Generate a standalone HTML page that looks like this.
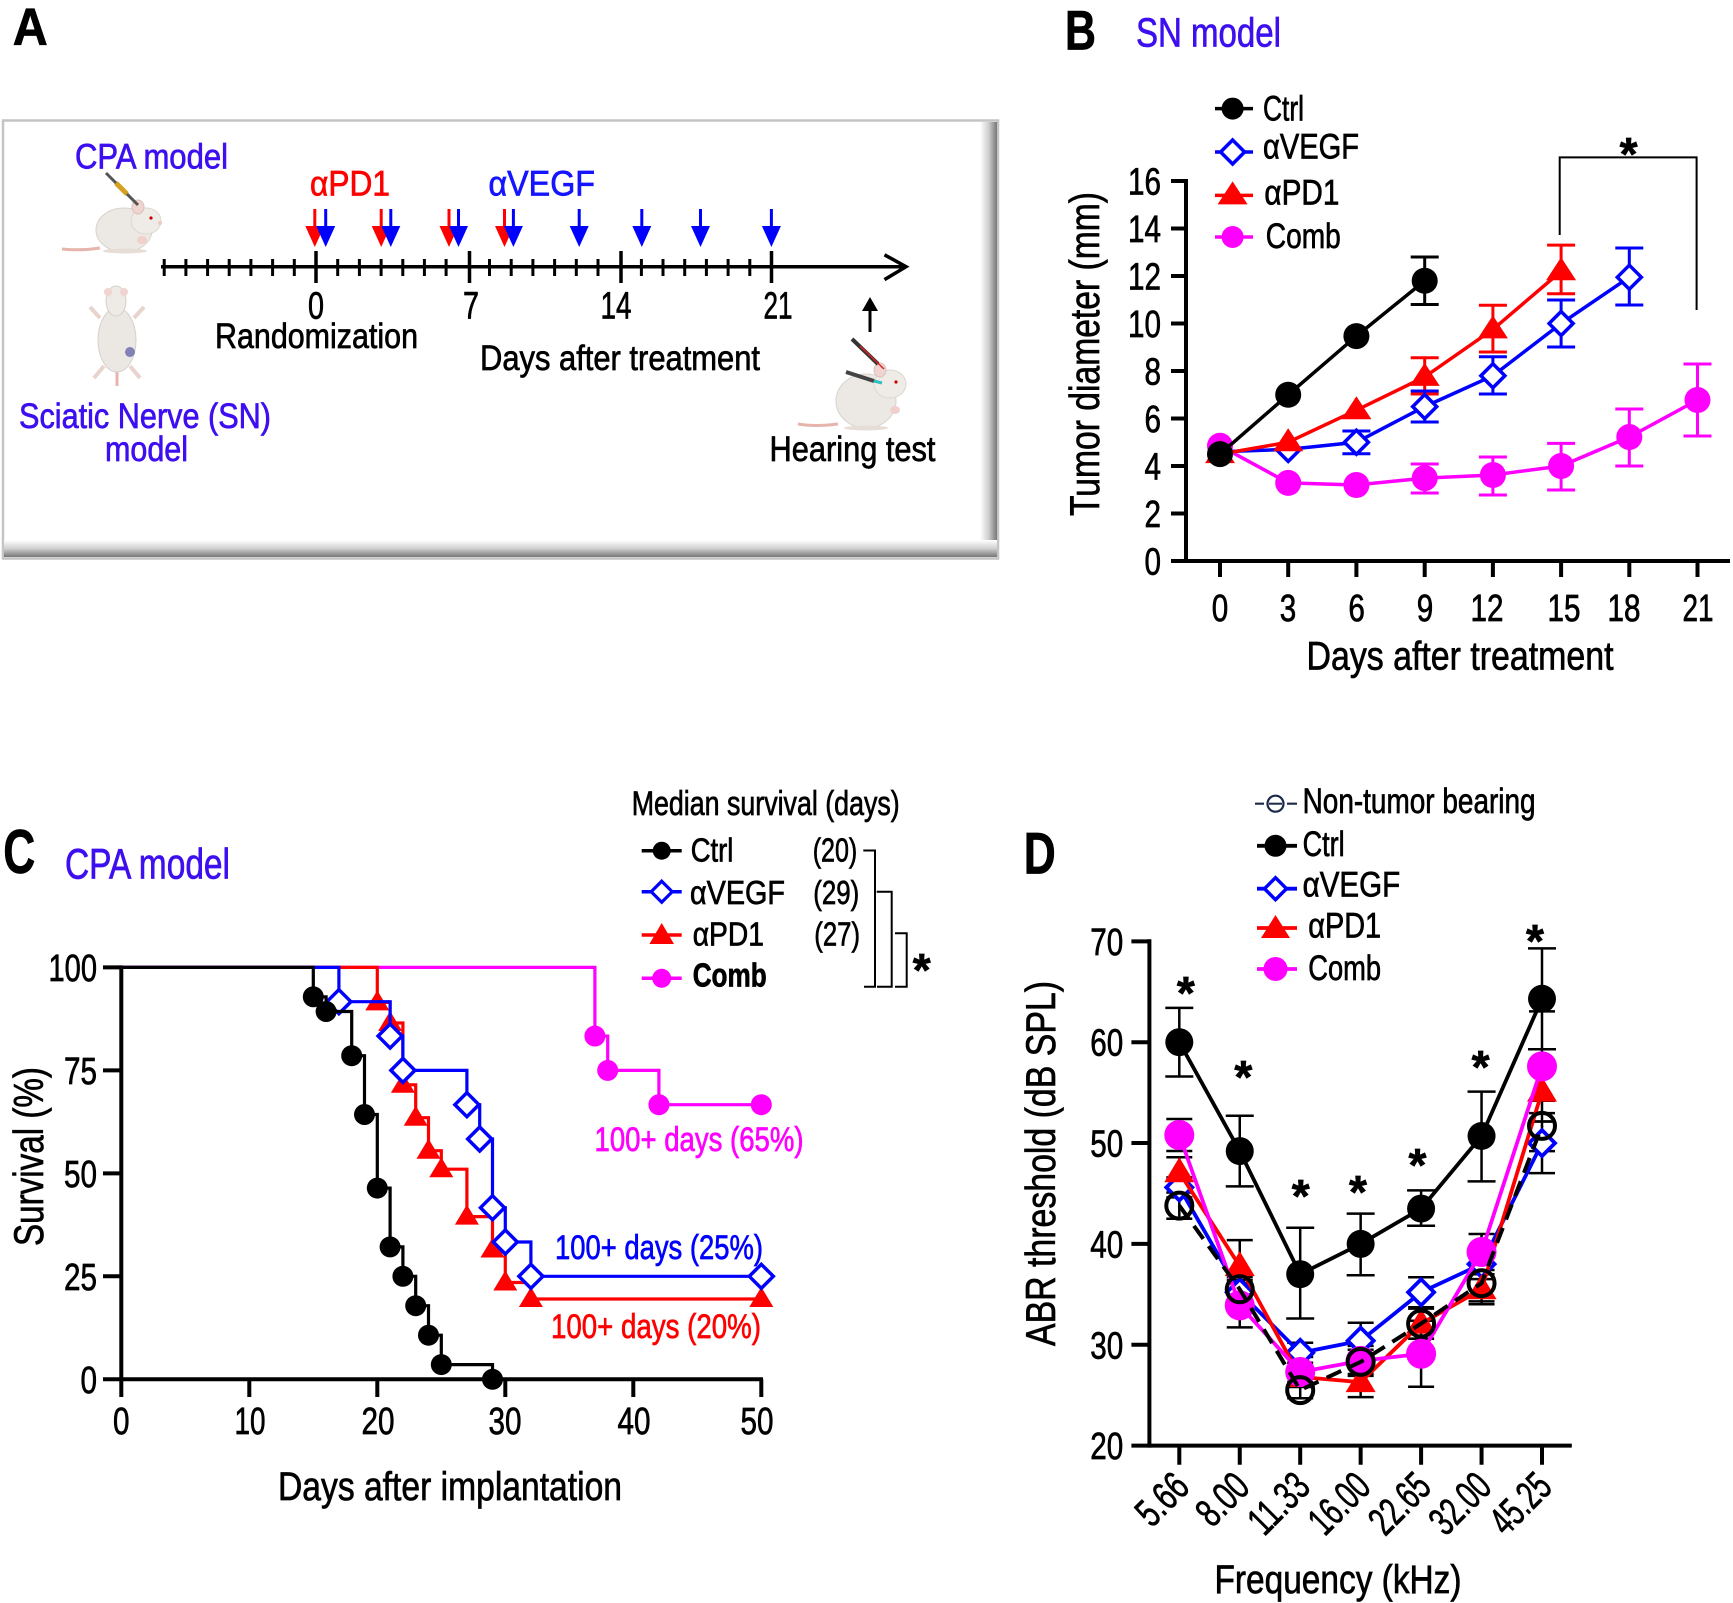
<!DOCTYPE html>
<html><head><meta charset="utf-8"><style>
html,body{margin:0;padding:0;background:#fff;}
svg{display:block;}
text{font-family:"Liberation Sans",Arial,sans-serif;fill:#000;stroke:#000;stroke-width:0.7px;}
.b{font-weight:bold;}
</style></head><body>
<svg xmlns="http://www.w3.org/2000/svg" width="1733" height="1603" viewBox="0 0 1733 1603">
<defs>
<linearGradient id="gr" x1="0" x2="1" y1="0" y2="0"><stop offset="0" stop-color="#fff"/><stop offset="0.5" stop-color="#d0d0d0"/><stop offset="1" stop-color="#767676"/></linearGradient>
<linearGradient id="gb" x1="0" x2="0" y1="0" y2="1"><stop offset="0" stop-color="#fff"/><stop offset="0.5" stop-color="#d0d0d0"/><stop offset="1" stop-color="#767676"/></linearGradient>
<path id="triB" d="M0,-14 L15,9 L-15,9 Z" fill="#ff0000"/>
<path id="diaB" d="M0,-12 L12,0 L0,12 L-12,0 Z" fill="#fff" stroke="#0000ff" stroke-width="3.5"/>
<path id="triC" d="M0,-12 L12,8 L-12,8 Z" fill="#ff0000"/>
<path id="diaC" d="M0,-12 L12,0 L0,12 L-12,0 Z" fill="#fff" stroke="#0000ff" stroke-width="3.5"/>
<path id="triD" d="M0,-15 L15,10 L-15,10 Z" fill="#ff0000"/>
<path id="diaD" d="M0,-13 L13,0 L0,13 L-13,0 Z" fill="#fff" stroke="#0000ff" stroke-width="3.8"/>
</defs>

<!-- ================= PANEL A ================= -->
<text class="b" x="12.8" y="44.4" font-size="52" textLength="35" lengthAdjust="spacingAndGlyphs">A</text>
<rect x="3" y="120.5" width="995" height="438" fill="#fff" stroke="#c4c4c4" stroke-width="2.5"/>
<rect x="980" y="122" width="17" height="435" fill="url(#gr)"/>
<rect x="4" y="540" width="993" height="17" fill="url(#gb)"/>

<!-- mouse 1 -->
<path d="M100,248 Q80,251 62,249" stroke="#e6b4ac" stroke-width="3" fill="none"/>
<ellipse cx="124" cy="230" rx="28" ry="22" fill="#ece9e5" stroke="#d8d3cd"/>
<ellipse cx="146" cy="221" rx="15" ry="13" fill="#efece8" stroke="#dcd7d1"/>
<ellipse cx="138" cy="207" rx="6" ry="7" fill="#efd4d0" stroke="#d8c0bc"/>
<circle cx="151" cy="218" r="1.6" fill="#c00"/>
<circle cx="160" cy="223" r="2" fill="#f0c8c0"/>
<ellipse cx="142" cy="240" rx="5" ry="4" fill="#f0d0cc"/>
<ellipse cx="125" cy="251" rx="22" ry="2.5" fill="#e6ddd6"/>
<line x1="106" y1="173" x2="138" y2="205" stroke="#555" stroke-width="3"/>
<line x1="116" y1="183" x2="127" y2="194" stroke="#d4a020" stroke-width="5"/>
<!-- mouse 2 -->
<line x1="100" y1="318" x2="90" y2="307" stroke="#e8d4cc" stroke-width="4"/>
<line x1="134" y1="318" x2="144" y2="307" stroke="#e8d4cc" stroke-width="4"/>
<line x1="104" y1="366" x2="94" y2="378" stroke="#e8d4cc" stroke-width="4"/>
<line x1="130" y1="366" x2="140" y2="378" stroke="#e8d4cc" stroke-width="4"/>
<line x1="117" y1="370" x2="117" y2="386" stroke="#e6b4ac" stroke-width="3"/>
<ellipse cx="117" cy="340" rx="19" ry="32" fill="#ebe8e4" stroke="#d5d0ca"/>
<ellipse cx="116" cy="301" rx="10" ry="15" fill="#eeebe7" stroke="#d5d0ca"/>
<circle cx="108" cy="292" r="4" fill="#efd4d0"/>
<circle cx="124" cy="292" r="4" fill="#efd4d0"/>
<circle cx="130" cy="352" r="5" fill="#7070b0" opacity="0.85"/>
<!-- mouse 3 -->
<path d="M838,424 Q815,427 798,424" stroke="#e6b4ac" stroke-width="3" fill="none"/>
<ellipse cx="866" cy="401" rx="30" ry="27" fill="#ece9e5" stroke="#d8d3cd"/>
<ellipse cx="890" cy="384" rx="16" ry="14" fill="#efece8" stroke="#dcd7d1"/>
<ellipse cx="880" cy="370" rx="6" ry="7" fill="#efd4d0" stroke="#d8c0bc"/>
<circle cx="896" cy="382" r="1.6" fill="#c00"/>
<ellipse cx="895" cy="410" rx="5" ry="4" fill="#f0d0cc"/>
<ellipse cx="866" cy="428" rx="22" ry="2.5" fill="#e6ddd6"/>
<line x1="852" y1="339" x2="878" y2="364" stroke="#333" stroke-width="4"/>
<line x1="860" y1="346" x2="884" y2="369" stroke="#e02020" stroke-width="1.5"/>
<line x1="846" y1="372" x2="874" y2="381" stroke="#444" stroke-width="4"/>
<line x1="874" y1="381" x2="882" y2="383" stroke="#30c0c0" stroke-width="3"/>

<!-- timeline -->
<line x1="161" y1="266.7" x2="905" y2="266.7" stroke="#000" stroke-width="3.5"/>
<polyline points="884.5,254.8 906,266.7 884.5,279.6" fill="none" stroke="#000" stroke-width="3.5"/>
<path d="M164.2,259V276 M185.9,259V276 M207.6,259V276 M229.2,259V276 M250.9,259V276 M272.6,259V276 M294.3,259V276 M337.7,259V276 M359.4,259V276 M381.1,259V276 M402.8,259V276 M424.4,259V276 M446.1,259V276 M489.5,259V276 M511.2,259V276 M532.9,259V276 M554.6,259V276 M576.3,259V276 M598,259V276 M641.4,259V276 M663,259V276 M684.7,259V276 M706.4,259V276 M728.1,259V276 M749.8,259V276" stroke="#000" stroke-width="3"/>
<path d="M316,251V283 M469.5,251V283 M621,251V283 M771.5,251V283" stroke="#000" stroke-width="3.5"/>
<!-- red arrows -->
<g stroke="#ff0000" stroke-width="3" fill="#ff0000">
<line x1="314.8" y1="209" x2="314.8" y2="228"/><polygon points="305.3,226 324.3,226 314.8,247" stroke="none"/>
<line x1="381.2" y1="209" x2="381.2" y2="228"/><polygon points="371.7,226 390.7,226 381.2,247" stroke="none"/>
<line x1="449" y1="209" x2="449" y2="228"/><polygon points="439.5,226 458.5,226 449,247" stroke="none"/>
<line x1="504.5" y1="209" x2="504.5" y2="228"/><polygon points="495,226 514,226 504.5,247" stroke="none"/>
</g>
<g stroke="#0000ff" stroke-width="3" fill="#0000ff">
<line x1="325.7" y1="209" x2="325.7" y2="228"/><polygon points="316.2,226 335.2,226 325.7,247" stroke="none"/>
<line x1="390.8" y1="209" x2="390.8" y2="228"/><polygon points="381.3,226 400.3,226 390.8,247" stroke="none"/>
<line x1="458.5" y1="209" x2="458.5" y2="228"/><polygon points="449,226 468,226 458.5,247" stroke="none"/>
<line x1="513.4" y1="209" x2="513.4" y2="228"/><polygon points="503.9,226 522.9,226 513.4,247" stroke="none"/>
<line x1="579.2" y1="209" x2="579.2" y2="228"/><polygon points="569.7,226 588.7,226 579.2,247" stroke="none"/>
<line x1="641.8" y1="209" x2="641.8" y2="228"/><polygon points="632.3,226 651.3,226 641.8,247" stroke="none"/>
<line x1="700.5" y1="209" x2="700.5" y2="228"/><polygon points="691,226 710,226 700.5,247" stroke="none"/>
<line x1="771.4" y1="209" x2="771.4" y2="228"/><polygon points="761.9,226 780.9,226 771.4,247" stroke="none"/>
</g>
<line x1="870" y1="332" x2="870" y2="308" stroke="#000" stroke-width="3"/>
<polygon points="862,311 878,311 870,297" fill="#000"/>

<text x="316" y="318.5" font-size="38" text-anchor="middle" textLength="16" lengthAdjust="spacingAndGlyphs">0</text>
<text x="471" y="318.5" font-size="38" text-anchor="middle" textLength="16" lengthAdjust="spacingAndGlyphs">7</text>
<text x="616" y="318.5" font-size="38" text-anchor="middle" textLength="31" lengthAdjust="spacingAndGlyphs">14</text>
<text x="778" y="318.5" font-size="38" text-anchor="middle" textLength="29" lengthAdjust="spacingAndGlyphs">21</text>
<text x="75" y="168.5" font-size="35" style="fill:#3d0ef0;stroke:#3d0ef0" textLength="153" lengthAdjust="spacingAndGlyphs">CPA model</text>
<text x="310" y="195.6" font-size="35" style="fill:#ff0000;stroke:#ff0000" textLength="80" lengthAdjust="spacingAndGlyphs">αPD1</text>
<text x="488.5" y="195.6" font-size="35" style="fill:#1414ff;stroke:#1414ff" textLength="106.5" lengthAdjust="spacingAndGlyphs">αVEGF</text>
<text x="215" y="348" font-size="35" textLength="203" lengthAdjust="spacingAndGlyphs">Randomization</text>
<text x="480" y="370" font-size="35" textLength="280" lengthAdjust="spacingAndGlyphs">Days after treatment</text>
<text x="769.5" y="461" font-size="35" textLength="166" lengthAdjust="spacingAndGlyphs">Hearing test</text>
<text x="19" y="428" font-size="35" style="fill:#3d0ef0;stroke:#3d0ef0" textLength="252" lengthAdjust="spacingAndGlyphs">Sciatic Nerve (SN)</text>
<text x="105" y="461" font-size="35" style="fill:#3d0ef0;stroke:#3d0ef0" textLength="83" lengthAdjust="spacingAndGlyphs">model</text>

<!-- ================= PANEL B ================= -->
<text class="b" x="1065" y="49.3" font-size="56" textLength="31" lengthAdjust="spacingAndGlyphs">B</text>
<text x="1136" y="46.7" font-size="41" style="fill:#3d0ef0;stroke:#3d0ef0" textLength="145" lengthAdjust="spacingAndGlyphs">SN model</text>

<line x1="1186" y1="179" x2="1186" y2="563" stroke="#000" stroke-width="4"/>
<line x1="1171" y1="561" x2="1730" y2="561" stroke="#000" stroke-width="4"/>
<path d="M1171,513.5H1186 M1171,466H1186 M1171,418.5H1186 M1171,371H1186 M1171,323.5H1186 M1171,276H1186 M1171,228.5H1186 M1171,181H1186" stroke="#000" stroke-width="4"/>
<path d="M1220,561V577 M1288.2,561V577 M1356.4,561V577 M1424.7,561V577 M1492.9,561V577 M1561.1,561V577 M1629.3,561V577 M1697.5,561V577" stroke="#000" stroke-width="4"/>
<g font-size="38" text-anchor="end">
<text x="1161" y="574.5" textLength="16.5" lengthAdjust="spacingAndGlyphs">0</text>
<text x="1161" y="527" textLength="16.5" lengthAdjust="spacingAndGlyphs">2</text>
<text x="1161" y="479.5" textLength="16.5" lengthAdjust="spacingAndGlyphs">4</text>
<text x="1161" y="432" textLength="16.5" lengthAdjust="spacingAndGlyphs">6</text>
<text x="1161" y="384.5" textLength="16.5" lengthAdjust="spacingAndGlyphs">8</text>
<text x="1161" y="337" textLength="33" lengthAdjust="spacingAndGlyphs">10</text>
<text x="1161" y="289.5" textLength="33" lengthAdjust="spacingAndGlyphs">12</text>
<text x="1161" y="242" textLength="33" lengthAdjust="spacingAndGlyphs">14</text>
<text x="1161" y="194.5" textLength="33" lengthAdjust="spacingAndGlyphs">16</text>
</g>
<g font-size="38" text-anchor="middle">
<text x="1220" y="621" textLength="16.5" lengthAdjust="spacingAndGlyphs">0</text>
<text x="1288" y="621" textLength="16.5" lengthAdjust="spacingAndGlyphs">3</text>
<text x="1356.6" y="621" textLength="16.5" lengthAdjust="spacingAndGlyphs">6</text>
<text x="1425" y="621" textLength="16.5" lengthAdjust="spacingAndGlyphs">9</text>
<text x="1487" y="621" textLength="33" lengthAdjust="spacingAndGlyphs">12</text>
<text x="1564" y="621" textLength="33" lengthAdjust="spacingAndGlyphs">15</text>
<text x="1624" y="621" textLength="33" lengthAdjust="spacingAndGlyphs">18</text>
<text x="1698" y="621" textLength="31" lengthAdjust="spacingAndGlyphs">21</text>
</g>
<text x="1306.5" y="669.6" font-size="40" textLength="307" lengthAdjust="spacingAndGlyphs">Days after treatment</text>
<text transform="translate(1099,354) rotate(-90)" font-size="42" text-anchor="middle" textLength="324" lengthAdjust="spacingAndGlyphs">Tumor diameter (mm)</text>

<!-- B error bars -->
<path d="M1424.7,257V304.5 M1410.7,257H1438.7 M1410.7,304.5H1438.7" stroke="#000" stroke-width="3"/>
<path d="M1424.7,357.7V394 M1410.7,357.7H1438.7 M1410.7,394H1438.7 M1492.9,305.2V352 M1478.9,305.2H1506.9 M1478.9,352H1506.9 M1561.1,245.1V293.8 M1547.1,245.1H1575.1 M1547.1,293.8H1575.1" stroke="#ff0000" stroke-width="3"/>
<path d="M1356.4,431V453.7 M1342.4,431H1370.4 M1342.4,453.7H1370.4 M1424.7,391V422 M1410.7,391H1438.7 M1410.7,422H1438.7 M1492.9,356.7V394 M1478.9,356.7H1506.9 M1478.9,394H1506.9 M1561.1,300V347 M1547.1,300H1575.1 M1547.1,347H1575.1 M1629.3,248V305 M1615.3,248H1643.3 M1615.3,305H1643.3" stroke="#0000ff" stroke-width="3"/>
<path d="M1424.7,464V493 M1410.7,464H1438.7 M1410.7,493H1438.7 M1492.9,457V495 M1478.9,457H1506.9 M1478.9,495H1506.9 M1561.1,443.4V490 M1547.1,443.4H1575.1 M1547.1,490H1575.1 M1629.3,409V466 M1615.3,409H1643.3 M1615.3,466H1643.3 M1697.5,364V436 M1683.5,364H1711.5 M1683.5,436H1711.5" stroke="#ff00ff" stroke-width="3"/>
<!-- B lines -->
<polyline points="1220,445.8 1288.2,482.9 1356.4,485 1424.7,478.1 1492.9,475 1561.1,466 1629.3,437 1697.5,400" fill="none" stroke="#ff00ff" stroke-width="3.5"/>
<g fill="#ff00ff"><circle cx="1220" cy="445.8" r="13"/><circle cx="1288.2" cy="482.9" r="13"/><circle cx="1356.4" cy="485" r="13"/><circle cx="1424.7" cy="478.1" r="13"/><circle cx="1492.9" cy="475" r="13"/><circle cx="1561.1" cy="466" r="13"/><circle cx="1629.3" cy="437" r="13"/><circle cx="1697.5" cy="400" r="13"/></g>
<polyline points="1220,451.75 1288.2,449.4 1356.4,442.25 1424.7,406.6 1492.9,375.75 1561.1,323.5 1629.3,277.2" fill="none" stroke="#0000ff" stroke-width="3.5"/>
<use href="#diaB" x="1288.2" y="449.4"/><use href="#diaB" x="1356.4" y="442.25"/><use href="#diaB" x="1424.7" y="406.6"/><use href="#diaB" x="1492.9" y="375.75"/><use href="#diaB" x="1561.1" y="323.5"/><use href="#diaB" x="1629.3" y="277.2"/>
<polyline points="1220,454.1 1288.2,442.25 1356.4,410.2 1424.7,376.9 1492.9,329.4 1561.1,271.25" fill="none" stroke="#ff0000" stroke-width="3.5"/>
<use href="#triB" x="1220" y="454.1"/><use href="#triB" x="1288.2" y="442.25"/><use href="#triB" x="1356.4" y="410.2"/><use href="#triB" x="1424.7" y="376.9"/><use href="#triB" x="1492.9" y="329.4"/><use href="#triB" x="1561.1" y="271.25"/>
<polyline points="1220,454.1 1288.2,394.75 1356.4,336.1 1424.7,280.75" fill="none" stroke="#000" stroke-width="3.5"/>
<g fill="#000"><circle cx="1220" cy="454.1" r="13"/><circle cx="1288.2" cy="394.75" r="13"/><circle cx="1356.4" cy="336.1" r="13"/><circle cx="1424.7" cy="280.75" r="13"/></g>
<!-- B bracket -->
<path d="M1559.7,235V157.4H1696.6V310" fill="none" stroke="#000" stroke-width="2"/>
<text class="b" x="1628.6" y="170" font-size="46" text-anchor="middle">*</text>
<!-- B legend -->
<line x1="1215" y1="108.6" x2="1253" y2="108.6" stroke="#000" stroke-width="3.5"/><circle cx="1232.6" cy="108.6" r="11" fill="#000"/>
<line x1="1215" y1="152" x2="1253" y2="152" stroke="#0000ff" stroke-width="3.5"/><use href="#diaB" x="1232.6" y="152"/>
<line x1="1215" y1="195.4" x2="1253" y2="195.4" stroke="#ff0000" stroke-width="3.5"/><use href="#triB" x="1232.6" y="195.4"/>
<line x1="1215" y1="237" x2="1253" y2="237" stroke="#ff00ff" stroke-width="3.5"/><circle cx="1232.6" cy="237" r="11" fill="#ff00ff"/>
<g font-size="35">
<text x="1263" y="120.7" textLength="41" lengthAdjust="spacingAndGlyphs">Ctrl</text>
<text x="1263" y="158.7" textLength="96" lengthAdjust="spacingAndGlyphs">αVEGF</text>
<text x="1264.4" y="204.7" textLength="75" lengthAdjust="spacingAndGlyphs">αPD1</text>
<text x="1265.8" y="248" textLength="75" lengthAdjust="spacingAndGlyphs">Comb</text>
</g>

<!-- ================= PANEL C ================= -->
<text class="b" x="3.3" y="873" font-size="62" textLength="32" lengthAdjust="spacingAndGlyphs">C</text>
<text x="65" y="878.3" font-size="43" style="fill:#3d0ef0;stroke:#3d0ef0" textLength="165" lengthAdjust="spacingAndGlyphs">CPA model</text>

<line x1="121.3" y1="965.4" x2="121.3" y2="1381.3" stroke="#000" stroke-width="4"/>
<line x1="103" y1="1379.3" x2="763" y2="1379.3" stroke="#000" stroke-width="4"/>
<path d="M103,967.4H121.3 M103,1070.4H121.3 M103,1173.35H121.3 M103,1276.3H121.3" stroke="#000" stroke-width="4"/>
<path d="M121.3,1379.3V1397 M249.3,1379.3V1397 M377.3,1379.3V1397 M505.3,1379.3V1397 M633.3,1379.3V1397 M761.3,1379.3V1397" stroke="#000" stroke-width="4"/>
<g font-size="38" text-anchor="end">
<text x="97" y="980.9" textLength="48.5" lengthAdjust="spacingAndGlyphs">100</text>
<text x="97" y="1083.9" textLength="33" lengthAdjust="spacingAndGlyphs">75</text>
<text x="97" y="1186.85" textLength="33" lengthAdjust="spacingAndGlyphs">50</text>
<text x="97" y="1289.8" textLength="33" lengthAdjust="spacingAndGlyphs">25</text>
<text x="97" y="1392.8" textLength="16.5" lengthAdjust="spacingAndGlyphs">0</text>
</g>
<g font-size="38" text-anchor="middle">
<text x="121.3" y="1434" textLength="16.5" lengthAdjust="spacingAndGlyphs">0</text>
<text x="250" y="1434" textLength="31" lengthAdjust="spacingAndGlyphs">10</text>
<text x="378" y="1434" textLength="33" lengthAdjust="spacingAndGlyphs">20</text>
<text x="505" y="1434" textLength="33" lengthAdjust="spacingAndGlyphs">30</text>
<text x="634" y="1434" textLength="33" lengthAdjust="spacingAndGlyphs">40</text>
<text x="757" y="1434" textLength="33" lengthAdjust="spacingAndGlyphs">50</text>
</g>
<text x="278" y="1500" font-size="40" textLength="344" lengthAdjust="spacingAndGlyphs">Days after implantation</text>
<text transform="translate(43,1156.5) rotate(-90)" font-size="42" text-anchor="middle" textLength="179" lengthAdjust="spacingAndGlyphs">Survival (%)</text>

<!-- C curves -->
<path d="M121.3,967.4 H594.9 V1036.05 H607.7 V1070.4 H658.9 V1104.7 H761.3" fill="none" stroke="#ff00ff" stroke-width="3.2"/>
<g fill="#ff00ff"><circle cx="594.9" cy="1036.05" r="10.5"/><circle cx="607.7" cy="1070.4" r="10.5"/><circle cx="658.9" cy="1104.7" r="10.5"/><circle cx="761.3" cy="1104.7" r="10.5"/></g>
<path d="M121.3,967.4 H377.3 V1002.4 H390.1 V1023 H402.9 V1084.8 H415.7 V1117.7 H428.5 V1150.7 H441.3 V1169.2 H466.9 V1216.6 H492.5 V1249.5 H505.3 V1282.5 H530.9 V1299 H761.3" fill="none" stroke="#ff0000" stroke-width="3.2"/>
<use href="#triC" x="377.3" y="1002.4"/><use href="#triC" x="390.1" y="1023"/><use href="#triC" x="402.9" y="1084.8"/><use href="#triC" x="415.7" y="1117.7"/><use href="#triC" x="428.5" y="1150.7"/><use href="#triC" x="441.3" y="1169.2"/><use href="#triC" x="466.9" y="1216.6"/><use href="#triC" x="492.5" y="1249.5"/><use href="#triC" x="505.3" y="1282.5"/><use href="#triC" x="530.9" y="1299"/><use href="#triC" x="761.3" y="1299"/>
<path d="M121.3,967.4 H338.9 V1001.7 H390.1 V1036.05 H402.9 V1070.4 H466.9 V1104.7 H479.7 V1139 H492.5 V1207.7 H505.3 V1242 H530.9 V1276.3 H761.3" fill="none" stroke="#0000ff" stroke-width="3.2"/>
<use href="#diaC" x="338.9" y="1001.7"/><use href="#diaC" x="390.1" y="1036.05"/><use href="#diaC" x="402.9" y="1070.4"/><use href="#diaC" x="466.9" y="1104.7"/><use href="#diaC" x="479.7" y="1139"/><use href="#diaC" x="492.5" y="1207.7"/><use href="#diaC" x="505.3" y="1242"/><use href="#diaC" x="530.9" y="1276.3"/><use href="#diaC" x="761.3" y="1276.3"/>
<path d="M121.3,967.4 H313.3 V996.8 H326.1 V1011.5 H351.7 V1055.7 H364.5 V1114.5 H377.3 V1188.1 H390.1 V1246.9 H402.9 V1276.3 H415.7 V1305.7 H428.5 V1335.2 H441.3 V1364.6 H492.5 V1379.3" fill="none" stroke="#000" stroke-width="3.2"/>
<g fill="#000"><circle cx="313.3" cy="996.8" r="10.5"/><circle cx="326.1" cy="1011.5" r="10.5"/><circle cx="351.7" cy="1055.7" r="10.5"/><circle cx="364.5" cy="1114.5" r="10.5"/><circle cx="377.3" cy="1188.1" r="10.5"/><circle cx="390.1" cy="1246.9" r="10.5"/><circle cx="402.9" cy="1276.3" r="10.5"/><circle cx="415.7" cy="1305.7" r="10.5"/><circle cx="428.5" cy="1335.2" r="10.5"/><circle cx="441.3" cy="1364.6" r="10.5"/><circle cx="492.5" cy="1379.3" r="10.5"/></g>

<text x="594.5" y="1151" font-size="34" style="fill:#ff00ff;stroke:#ff00ff" textLength="209" lengthAdjust="spacingAndGlyphs">100+ days (65%)</text>
<text x="555" y="1259" font-size="34" style="fill:#0000ff;stroke:#0000ff" textLength="208" lengthAdjust="spacingAndGlyphs">100+ days (25%)</text>
<text x="551" y="1338" font-size="34" style="fill:#ff0000;stroke:#ff0000" textLength="210" lengthAdjust="spacingAndGlyphs">100+ days (20%)</text>

<!-- C legend -->
<text x="631.7" y="815" font-size="34" textLength="268" lengthAdjust="spacingAndGlyphs">Median survival (days)</text>
<line x1="641.7" y1="850.7" x2="681.7" y2="850.7" stroke="#000" stroke-width="3.5"/><circle cx="661.7" cy="850.7" r="9" fill="#000"/>
<line x1="641.7" y1="891.7" x2="681.7" y2="891.7" stroke="#0000ff" stroke-width="3.5"/><path d="M661.7,881.2 L672.2,891.7 L661.7,902.2 L651.2,891.7Z" fill="#fff" stroke="#0000ff" stroke-width="3.2"/>
<line x1="641.7" y1="935" x2="681.7" y2="935" stroke="#ff0000" stroke-width="3.5"/><path d="M661.7,923 L674,944 L649.4,944Z" fill="#ff0000"/>
<line x1="641.7" y1="978.3" x2="681.7" y2="978.3" stroke="#ff00ff" stroke-width="3.5"/><circle cx="661.7" cy="978.3" r="9.5" fill="#ff00ff"/>
<g font-size="33">
<text x="690.7" y="861.7" textLength="42.6" lengthAdjust="spacingAndGlyphs">Ctrl</text>
<text x="690" y="904" textLength="95" lengthAdjust="spacingAndGlyphs">αVEGF</text>
<text x="692.7" y="945.7" textLength="71.3" lengthAdjust="spacingAndGlyphs">αPD1</text>
<text class="b" x="692.7" y="986.7" textLength="74" lengthAdjust="spacingAndGlyphs">Comb</text>
<text x="812.7" y="861.7" textLength="44.6" lengthAdjust="spacingAndGlyphs">(20)</text>
<text x="813.3" y="904" textLength="46" lengthAdjust="spacingAndGlyphs">(29)</text>
<text x="814.3" y="945.7" textLength="45.7" lengthAdjust="spacingAndGlyphs">(27)</text>
</g>
<path d="M863.3,850.5H875V986.7H864 M876.7,891.7H891.7V986.7H877 M895,933.3H906.7V986.7H895" fill="none" stroke="#000" stroke-width="2"/>
<text class="b" x="921.7" y="986" font-size="46" text-anchor="middle">*</text>

<!-- ================= PANEL D ================= -->
<text class="b" x="1023.7" y="873.4" font-size="58" textLength="32" lengthAdjust="spacingAndGlyphs">D</text>
<line x1="1149.4" y1="939.3" x2="1149.4" y2="1447.6" stroke="#000" stroke-width="4"/>
<line x1="1131.4" y1="1445.6" x2="1571.8" y2="1445.6" stroke="#000" stroke-width="4"/>
<path d="M1131.4,941.35H1149.4 M1131.4,1042.2H1149.4 M1131.4,1143.05H1149.4 M1131.4,1243.9H1149.4 M1131.4,1344.75H1149.4" stroke="#000" stroke-width="4"/>
<path d="M1179.3,1445.6V1464.8 M1239.75,1445.6V1464.8 M1300.2,1445.6V1464.8 M1360.65,1445.6V1464.8 M1421.1,1445.6V1464.8 M1481.55,1445.6V1464.8 M1542,1445.6V1464.8" stroke="#000" stroke-width="4"/>
<g font-size="38" text-anchor="end">
<text x="1123.3" y="954.85" textLength="33" lengthAdjust="spacingAndGlyphs">70</text>
<text x="1123.3" y="1055.7" textLength="33" lengthAdjust="spacingAndGlyphs">60</text>
<text x="1123.3" y="1156.55" textLength="33" lengthAdjust="spacingAndGlyphs">50</text>
<text x="1123.3" y="1257.4" textLength="33" lengthAdjust="spacingAndGlyphs">40</text>
<text x="1123.3" y="1358.25" textLength="33" lengthAdjust="spacingAndGlyphs">30</text>
<text x="1123.3" y="1459.1" textLength="33" lengthAdjust="spacingAndGlyphs">20</text>
</g>
<g font-size="40" text-anchor="end">
<text transform="translate(1191.3,1489) rotate(-45)" textLength="56" lengthAdjust="spacingAndGlyphs">5.66</text>
<text transform="translate(1251.75,1489) rotate(-45)" textLength="56" lengthAdjust="spacingAndGlyphs">8.00</text>
<text transform="translate(1312.2,1489) rotate(-45)" textLength="68" lengthAdjust="spacingAndGlyphs">11.33</text>
<text transform="translate(1372.65,1489) rotate(-45)" textLength="68" lengthAdjust="spacingAndGlyphs">16.00</text>
<text transform="translate(1433.1,1489) rotate(-45)" textLength="68" lengthAdjust="spacingAndGlyphs">22.65</text>
<text transform="translate(1493.55,1489) rotate(-45)" textLength="68" lengthAdjust="spacingAndGlyphs">32.00</text>
<text transform="translate(1554,1489) rotate(-45)" textLength="68" lengthAdjust="spacingAndGlyphs">45.25</text>
</g>
<text x="1214.5" y="1593" font-size="40" textLength="247" lengthAdjust="spacingAndGlyphs">Frequency (kHz)</text>
<text transform="translate(1055,1163.5) rotate(-90)" font-size="42" text-anchor="middle" textLength="365" lengthAdjust="spacingAndGlyphs">ABR threshold (dB SPL)</text>

<!-- D error bars (black) -->
<path stroke="#000" stroke-width="2.5" fill="none" d="
M1179.3,1192.5V1218.7 M1166.3,1192.5H1192.3 M1166.3,1218.7H1192.3
M1239.75,1277.2V1301.4 M1226.75,1277.2H1252.75 M1226.75,1301.4H1252.75
M1300.2,1382V1398.2 M1287.2,1382H1313.2 M1287.2,1398.2H1313.2
M1360.65,1349.8V1374 M1347.65,1349.8H1373.65 M1347.65,1374H1373.65
M1421.1,1308.5V1338.7 M1408.1,1308.5H1434.1 M1408.1,1338.7H1434.1
M1481.55,1265V1301.4 M1468.55,1265H1494.55 M1468.55,1301.4H1494.55
M1542,1100.7V1151.1 M1529,1100.7H1555 M1529,1151.1H1555
M1179.3,1177.4V1197.4 M1166.3,1177.4H1192.3 M1166.3,1197.4H1192.3
M1239.75,1280.3V1304.3 M1226.75,1280.3H1252.75 M1226.75,1304.3H1252.75
M1300.2,1342.8V1362.8 M1287.2,1342.8H1313.2 M1287.2,1362.8H1313.2
M1360.65,1322.7V1358.7 M1347.65,1322.7H1373.65 M1347.65,1358.7H1373.65
M1421.1,1277.3V1307.3 M1408.1,1277.3H1434.1 M1408.1,1307.3H1434.1
M1481.55,1249.1V1279.1 M1468.55,1249.1H1494.55 M1468.55,1279.1H1494.55
M1542,1113.1V1173.1 M1529,1113.1H1555 M1529,1173.1H1555
M1179.3,1157.3V1187.3 M1166.3,1157.3H1192.3 M1166.3,1187.3H1192.3
M1239.75,1240.1V1292.1 M1226.75,1240.1H1252.75 M1226.75,1292.1H1252.75
M1300.2,1367V1387 M1287.2,1367H1313.2 M1287.2,1387H1313.2
M1360.65,1367.1V1397.1 M1347.65,1367.1H1373.65 M1347.65,1397.1H1373.65
M1421.1,1308.6V1338.6 M1408.1,1308.6H1434.1 M1408.1,1338.6H1434.1
M1481.55,1274.3V1304.3 M1468.55,1274.3H1494.55 M1468.55,1304.3H1494.55
M1542,1061.6V1121.6 M1529,1061.6H1555 M1529,1121.6H1555
M1179.3,1119V1151 M1166.3,1119H1192.3 M1166.3,1151H1192.3
M1239.75,1283.4V1327.4 M1226.75,1283.4H1252.75 M1226.75,1327.4H1252.75
M1300.2,1357V1387 M1287.2,1357H1313.2 M1287.2,1387H1313.2
M1360.65,1345.9V1375.9 M1347.65,1345.9H1373.65 M1347.65,1375.9H1373.65
M1421.1,1320.8V1386.8 M1408.1,1320.8H1434.1 M1408.1,1386.8H1434.1
M1481.55,1234V1270 M1468.55,1234H1494.55 M1468.55,1270H1494.55
M1542,1011.4V1121.4 M1529,1011.4H1555 M1529,1121.4H1555
M1179.3,1007.9V1076.5 M1165.3,1007.9H1193.3 M1165.3,1076.5H1193.3
M1239.75,1115.8V1186.4 M1225.75,1115.8H1253.75 M1225.75,1186.4H1253.75
M1300.2,1227.8V1318.5 M1286.2,1227.8H1314.2 M1286.2,1318.5H1314.2
M1360.65,1213.6V1275.2 M1346.65,1213.6H1374.65 M1346.65,1275.2H1374.65
M1421.1,1190.4V1225.7 M1407.1,1190.4H1435.1 M1407.1,1225.7H1435.1
M1481.55,1091.6V1181.4 M1467.55,1091.6H1495.55 M1467.55,1181.4H1495.55
M1542,948.4V1049.3 M1528,948.4H1556 M1528,1049.3H1556"/>

<!-- D series -->
<polyline points="1179.3,1187.4 1239.75,1292.3 1300.2,1352.8 1360.65,1340.7 1421.1,1292.3 1481.55,1264.1 1542,1143.1" fill="none" stroke="#0000ff" stroke-width="3.8"/>
<use href="#diaD" x="1179.3" y="1187.4"/><use href="#diaD" x="1239.75" y="1292.3"/><use href="#diaD" x="1300.2" y="1352.8"/><use href="#diaD" x="1360.65" y="1340.7"/><use href="#diaD" x="1421.1" y="1292.3"/><use href="#diaD" x="1481.55" y="1264.1"/><use href="#diaD" x="1542" y="1143.1"/>
<polyline points="1179.3,1172.3 1239.75,1266.1 1300.2,1377 1360.65,1382.1 1421.1,1323.6 1481.55,1289.3 1542,1091.6" fill="none" stroke="#ff0000" stroke-width="3.8"/>
<use href="#triD" x="1179.3" y="1172.3"/><use href="#triD" x="1239.75" y="1266.1"/><use href="#triD" x="1300.2" y="1377"/><use href="#triD" x="1360.65" y="1382.1"/><use href="#triD" x="1421.1" y="1323.6"/><use href="#triD" x="1481.55" y="1289.3"/><use href="#triD" x="1542" y="1091.6"/>
<polyline points="1179.3,1135 1239.75,1305.4 1300.2,1372 1360.65,1360.9 1421.1,1353.8 1481.55,1252 1542,1066.4" fill="none" stroke="#ff00ff" stroke-width="3.8"/>
<g fill="#ff00ff"><circle cx="1179.3" cy="1135" r="15"/><circle cx="1239.75" cy="1305.4" r="15"/><circle cx="1300.2" cy="1372" r="15"/><circle cx="1360.65" cy="1360.9" r="15"/><circle cx="1421.1" cy="1353.8" r="15"/><circle cx="1481.55" cy="1252" r="15"/><circle cx="1542" cy="1066.4" r="15"/></g>
<polyline points="1179.3,1205.6 1239.75,1289.3 1300.2,1390.1 1360.65,1361.9 1421.1,1323.6 1481.55,1283.2 1542,1125.9" fill="none" stroke="#000" stroke-width="4" stroke-dasharray="16,9"/>
<g fill="none" stroke="#000" stroke-width="4"><circle cx="1179.3" cy="1205.6" r="13"/><circle cx="1239.75" cy="1289.3" r="13"/><circle cx="1300.2" cy="1390.1" r="13"/><circle cx="1360.65" cy="1361.9" r="13"/><circle cx="1421.1" cy="1323.6" r="13"/><circle cx="1481.55" cy="1283.2" r="13"/><circle cx="1542" cy="1125.9" r="13"/></g>
<polyline points="1179.3,1042.2 1239.75,1151.1 1300.2,1274.2 1360.65,1243.9 1421.1,1208.6 1481.55,1136 1542,998.8" fill="none" stroke="#000" stroke-width="3.8"/>
<g fill="#000"><circle cx="1179.3" cy="1042.2" r="14"/><circle cx="1239.75" cy="1151.1" r="14"/><circle cx="1300.2" cy="1274.2" r="14"/><circle cx="1360.65" cy="1243.9" r="14"/><circle cx="1421.1" cy="1208.6" r="14"/><circle cx="1481.55" cy="1136" r="14"/><circle cx="1542" cy="998.8" r="14"/></g>
<!-- D stars -->
<g font-size="46" text-anchor="middle">
<text class="b" x="1185.8" y="1009">*</text>
<text class="b" x="1243.3" y="1093">*</text>
<text class="b" x="1300.7" y="1212">*</text>
<text class="b" x="1358" y="1208">*</text>
<text class="b" x="1417.5" y="1181">*</text>
<text class="b" x="1480.6" y="1083">*</text>
<text class="b" x="1535" y="957">*</text>
</g>
<!-- D legend -->
<path d="M1255,803.7H1264 M1287,803.7H1297" stroke="#1b2a4a" stroke-width="2.2"/>
<circle cx="1275.5" cy="803.7" r="8" fill="none" stroke="#1b2a4a" stroke-width="2.2"/>
<line x1="1269" y1="803.7" x2="1282" y2="803.7" stroke="#1b2a4a" stroke-width="2"/>
<line x1="1257" y1="845.8" x2="1297" y2="845.8" stroke="#000" stroke-width="3.8"/><circle cx="1275.5" cy="845.8" r="11" fill="#000"/>
<line x1="1257" y1="888.7" x2="1297" y2="888.7" stroke="#0000ff" stroke-width="3.8"/><path d="M1275.5,877.7 L1286.5,888.7 L1275.5,899.7 L1264.5,888.7Z" fill="#fff" stroke="#0000ff" stroke-width="3.5"/>
<line x1="1257" y1="928" x2="1297" y2="928" stroke="#ff0000" stroke-width="3.8"/><path d="M1275.5,915 L1290,938 L1261,938Z" fill="#ff0000"/>
<line x1="1257" y1="969" x2="1297" y2="969" stroke="#ff00ff" stroke-width="3.8"/><circle cx="1275.5" cy="969" r="12" fill="#ff00ff"/>
<g font-size="35">
<text x="1302.6" y="813" textLength="233" lengthAdjust="spacingAndGlyphs">Non-tumor bearing</text>
<text x="1302.6" y="856" textLength="42" lengthAdjust="spacingAndGlyphs">Ctrl</text>
<text x="1302.6" y="896.4" textLength="97.6" lengthAdjust="spacingAndGlyphs">αVEGF</text>
<text x="1308.3" y="937.4" textLength="72.8" lengthAdjust="spacingAndGlyphs">αPD1</text>
<text x="1308.3" y="980" textLength="72.8" lengthAdjust="spacingAndGlyphs">Comb</text>
</g>
</svg>
</body></html>
